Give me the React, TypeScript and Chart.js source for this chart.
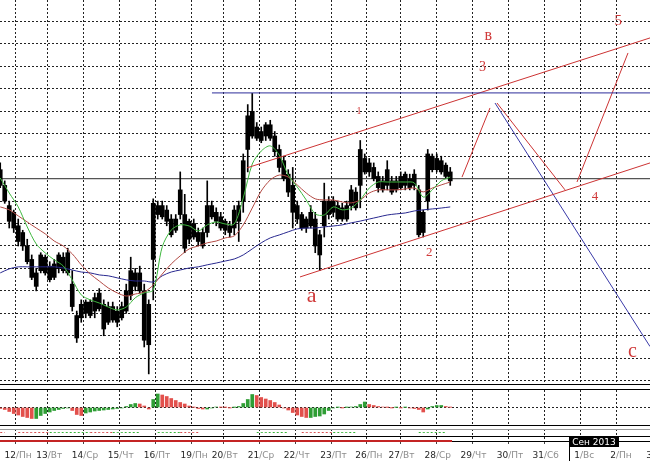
import React, { useEffect, useRef } from 'react';
import { Chart, registerables } from 'chart.js';

Chart.register(...registerables);

// ---------- time axis (trading-day units, grid at each day start) ----------
const dayStarts = [0, 0.881, 1.869, 2.869, 3.869, 4.889, 5.758, 6.758, 7.758, 8.769, 9.742, 10.667, 11.667, 12.667, 13.675, 14.667, 15.667, 16.667, 17.667];
const dayNumbers = ['12', '13', '14', '15', '16', '19', '20', '21', '22', '23', '26', '27', '28', '29', '30', '31', '1', '2', '3'];
const dayNames = ['/Пн', '/Вт', '/Ср', '/Чт', '/Пт', '/Пн', '/Вт', '/Ср', '/Чт', '/Пт', '/Пн', '/Вт', '/Ср', '/Чт', '/Пт', '/Сб', '/Вс', '/Пн', '/Вт'];
const timeMin = -0.444;
const timeMax = 17.611;
const firstBarTime = -0.4375;
const barStep = 0.125; // one bar = 3 hours
const monthMark = { at: 15.361, text: 'Сен 2013' };

// ---------- price axis ----------
const priceMin = 1.32985;
const priceMax = 1.34696;
const priceGrid = [1.33, 1.331, 1.332, 1.333, 1.334, 1.335, 1.336, 1.337, 1.338, 1.339, 1.34, 1.341, 1.342, 1.343, 1.344, 1.345, 1.346];
const bidPrice = 1.339;

// ---------- candles ----------
const opens = [
  1.3394, 1.3387, 1.3378, 1.3375, 1.3369, 1.3366, 1.3360, 1.3354, 1.3348, 1.3349,
  1.3355, 1.3351, 1.3346, 1.3350, 1.3355, 1.3357, 1.3343, 1.3329, 1.3328, 1.3330,
  1.3335, 1.3331, 1.3332, 1.3334, 1.3326, 1.3333, 1.3331, 1.3328, 1.3331, 1.3338,
  1.3348, 1.3348, 1.3340, 1.3334, 1.3354, 1.3374, 1.3378, 1.3376, 1.3372, 1.3367,
  1.3374, 1.3374, 1.3363, 1.3364, 1.3366, 1.3366, 1.3366, 1.3378, 1.3375, 1.3373,
  1.3371, 1.3369, 1.3368, 1.3371, 1.3380, 1.3403, 1.3409, 1.3413, 1.3411, 1.3409,
  1.3414, 1.3409, 1.3403, 1.3398, 1.3392, 1.3387, 1.3378, 1.3374, 1.3368, 1.3369,
  1.3372, 1.3365, 1.3369, 1.3380, 1.3375, 1.3378, 1.3377, 1.3372, 1.3378, 1.3384,
  1.3387, 1.3399, 1.3397, 1.3395, 1.3391, 1.3389, 1.3387, 1.3389, 1.3385, 1.3386,
  1.3392, 1.3386, 1.3392, 1.3385, 1.3366, 1.3380, 1.3400, 1.3399, 1.3398, 1.3396,
  1.3393,
];
const highs = [
  1.3397, 1.3389, 1.3380, 1.3376, 1.3372, 1.3367, 1.3363, 1.3356, 1.3350, 1.3357,
  1.3356, 1.3353, 1.3354, 1.3357, 1.3357, 1.3359, 1.3349, 1.3331, 1.3336, 1.3336,
  1.3336, 1.3339, 1.3341, 1.3336, 1.3335, 1.3335, 1.3333, 1.3335, 1.3343, 1.3355,
  1.3350, 1.3351, 1.3343, 1.3336, 1.3381, 1.3380, 1.3380, 1.3378, 1.3374, 1.3374,
  1.3393, 1.3383, 1.3372, 1.3372, 1.3368, 1.3368, 1.3389, 1.3380, 1.3377, 1.3375,
  1.3372, 1.3371, 1.3378, 1.3380, 1.3401, 1.3423, 1.3428, 1.3415, 1.3413, 1.3415,
  1.3416, 1.3411, 1.3405, 1.3400, 1.3394, 1.3395, 1.3380, 1.3375, 1.3373, 1.3378,
  1.3375, 1.3367, 1.3388, 1.3382, 1.3382, 1.3380, 1.3379, 1.3380, 1.3387, 1.3386,
  1.3407, 1.3401, 1.3399, 1.3397, 1.3393, 1.3391, 1.3398, 1.3391, 1.3391, 1.3393,
  1.3393, 1.3392, 1.3394, 1.3387, 1.3376, 1.3403, 1.3401, 1.3401, 1.3400, 1.3397,
  1.3395,
];
const lows = [
  1.3386, 1.3379, 1.3368, 1.3366, 1.3360, 1.3358, 1.3352, 1.3345, 1.3340, 1.3348,
  1.3347, 1.3344, 1.3345, 1.3348, 1.3348, 1.3347, 1.3331, 1.3317, 1.3326, 1.3328,
  1.3328, 1.3328, 1.3331, 1.3320, 1.3325, 1.3326, 1.3324, 1.3327, 1.3330, 1.3336,
  1.3340, 1.3339, 1.3315, 1.3303, 1.3336, 1.3372, 1.3372, 1.3369, 1.3364, 1.3366,
  1.3372, 1.3357, 1.3361, 1.3363, 1.3360, 1.3359, 1.3364, 1.3372, 1.3369, 1.3367,
  1.3365, 1.3364, 1.3365, 1.3362, 1.3375, 1.3393, 1.3408, 1.3407, 1.3406, 1.3407,
  1.3407, 1.3400, 1.3393, 1.3389, 1.3382, 1.3368, 1.3370, 1.3367, 1.3366, 1.3368,
  1.3357, 1.3349, 1.3364, 1.3372, 1.3373, 1.3371, 1.3371, 1.3371, 1.3376, 1.3376,
  1.3377, 1.3392, 1.3391, 1.3389, 1.3384, 1.3384, 1.3385, 1.3383, 1.3384, 1.3385,
  1.3385, 1.3385, 1.3385, 1.3364, 1.3364, 1.3376, 1.3393, 1.3393, 1.3392, 1.3390,
  1.3387,
];
const closes = [
  1.3387, 1.3380, 1.3371, 1.3368, 1.3362, 1.3360, 1.3353, 1.3346, 1.3342, 1.3356,
  1.3348, 1.3345, 1.3352, 1.3356, 1.3349, 1.3348, 1.3333, 1.3319, 1.3334, 1.3335,
  1.3329, 1.3337, 1.3339, 1.3323, 1.3333, 1.3327, 1.3326, 1.3333, 1.3340, 1.3349,
  1.3342, 1.3340, 1.3318, 1.3316, 1.3379, 1.3378, 1.3373, 1.3371, 1.3365, 1.3372,
  1.3385, 1.3359, 1.3371, 1.3370, 1.3362, 1.3360, 1.3378, 1.3373, 1.3371, 1.3368,
  1.3367, 1.3366, 1.3376, 1.3378, 1.3398, 1.3418, 1.3420, 1.3408, 1.3407, 1.3414,
  1.3408, 1.3402, 1.3395, 1.3390, 1.3384, 1.3375, 1.3372, 1.3368, 1.3372, 1.3375,
  1.3360, 1.3356, 1.3380, 1.3374, 1.3380, 1.3372, 1.3372, 1.3378, 1.3385, 1.3377,
  1.3403, 1.3393, 1.3393, 1.3390, 1.3386, 1.3385, 1.3394, 1.3384, 1.3389, 1.3391,
  1.3387, 1.3390, 1.3387, 1.3365, 1.3375, 1.3401, 1.3394, 1.3394, 1.3393, 1.3391,
  1.3389,
];

// ---------- moving averages (one value every 2 bars) ----------
const maStep = 2;
const maFast = [
  1.33903, 1.33836, 1.33774, 1.33685, 1.33609, 1.33569, 1.33538, 1.33511, 1.33449, 1.33382,
  1.33360, 1.33346, 1.33328, 1.33315, 1.33328, 1.33369, 1.33391, 1.33404, 1.33596, 1.33671,
  1.33694, 1.33689, 1.33667, 1.33694, 1.33707, 1.33698, 1.33698, 1.33814, 1.33965, 1.34023,
  1.34046, 1.34005, 1.33916, 1.33863, 1.33805, 1.33743, 1.33738, 1.33774, 1.33761, 1.33769,
  1.33805, 1.33858, 1.33885, 1.33885, 1.33885, 1.33885, 1.33881, 1.33818, 1.33850, 1.33890,
  1.33907,
];
const maMid = [
  1.33774, 1.33761, 1.33734, 1.33707, 1.33680, 1.33654, 1.33622, 1.33600, 1.33565, 1.33516,
  1.33475, 1.33444, 1.33413, 1.33391, 1.33377, 1.33386, 1.33395, 1.33426, 1.33475, 1.33520,
  1.33556, 1.33587, 1.33600, 1.33614, 1.33622, 1.33636, 1.33645, 1.33694, 1.33769, 1.33845,
  1.33894, 1.33916, 1.33907, 1.33872, 1.33836, 1.33810, 1.33805, 1.33805, 1.33796, 1.33792,
  1.33805, 1.33836, 1.33850, 1.33850, 1.33850, 1.33854, 1.33858, 1.33841, 1.33858, 1.33872,
  1.33885,
];
const maSlow = [
  1.33480, 1.33498, 1.33507, 1.33507, 1.33507, 1.33507, 1.33507, 1.33502, 1.33493, 1.33484,
  1.33480, 1.33471, 1.33467, 1.33458, 1.33449, 1.33444, 1.33444, 1.33440, 1.33467, 1.33484,
  1.33493, 1.33502, 1.33507, 1.33516, 1.33524, 1.33533, 1.33542, 1.33560, 1.33587, 1.33614,
  1.33636, 1.33649, 1.33663, 1.33676, 1.33680, 1.33680, 1.33685, 1.33689, 1.33694, 1.33703,
  1.33711, 1.33720, 1.33729, 1.33738, 1.33743, 1.33747, 1.33756, 1.33761, 1.33765, 1.33769,
  1.33774,
];

// ---------- drawn objects (time, price) ----------
const resistance = [[5.444, 1.34282], [17.611, 1.34282]];
const channelUpper = [[6.417, 1.33948], [17.611, 1.34527]];
const channelLower = [[7.889, 1.33462], [17.611, 1.3397]];
const forecastUp1 = [[12.389, 1.33907], [13.167, 1.34215]];
const forecastDown = [[13.361, 1.34237], [15.25, 1.3385]];
const forecastUp2 = [[15.583, 1.33885], [17.0, 1.3446]];
const targetLine = [[13.306, 1.34237], [17.611, 1.33152]];

const waveLabels = [
  { text: 'в', x: 13.12, y: 1.34518, size: 16 },
  { text: '5', x: 16.73, y: 1.34584, size: 15 },
  { text: '3', x: 12.96, y: 1.3438, size: 14 },
  { text: '1', x: 9.53, y: 1.34188, size: 10 },
  { text: '2', x: 11.48, y: 1.33556, size: 13 },
  { text: '4', x: 16.08, y: 1.33805, size: 13 },
  { text: 'a', x: 8.21, y: 1.33351, size: 22 },
  { text: 'c', x: 17.12, y: 1.33106, size: 20 },
];

// ---------- oscillator (one value per bar) ----------
const oscillator = [
  -0.0001, -0.0002, -0.0004, -0.0006, -0.00075, -0.0009, -0.001, -0.0011, -0.0011, -0.0008,
  -0.0006, -0.00045, -0.0003, -0.0002, -0.0001, -0.00005, -0.0003, -0.0007, -0.0008, -0.00055,
  -0.00045, -0.00035, -0.0003, -0.00025, -0.0002, -0.00015, -0.0001, -0.00005, 0.0001, 0.0003,
  0.0004, 0.00035, 0.00015, -0.00015, 0.0008, 0.00135, 0.00125, 0.0011, 0.0009, 0.0007,
  0.0005, 0.00035, 0.00015, 0.00002, -0.0001, -0.00015, -0.00015, -0.00005, 0.00005, 0.00002,
  0.00001, -0.00001, 0.00001, 0.0001, 0.0004, 0.0008, 0.0013, 0.0012, 0.001, 0.00085,
  0.0007, 0.0005, 0.00025, -0.00005, -0.00025, -0.0005, -0.00075, -0.0009, -0.001, -0.001,
  -0.0009, -0.00085, -0.00065, -0.0003, -0.00005, 0.00001, -0.00001, 0.00001, 0.00005, 0.0001,
  0.0003, 0.00055, 0.0003, 0.0002, 0.0001, 0.00005, 0.00001, -0.00001, 0.00001, -0.00001,
  0.00001, -0.00005, -0.0001, -0.0002, -0.00045, -0.00015, 0.0001, 0.0002, 0.0002, 0.0001,
  0.00002,
];

// ---------- signal state per bar (1 buy, -1 sell, 0 none) ----------
const signalState = [
  -1, -1, 0, 0, -1, -1, -1, -1, -1, -1,
  -1, 1, 1, 1, 1, 1, 1, 1, 1, 1,
  -1, -1, -1, -1, -1, 1, 1, 1, 1, 1,
  1, 1, 0, 0, 0, 1, 1, 1, 1, 1,
  -1, -1, -1, -1, -1, 0, 0, 0, 0, 0,
  0, 0, 0, 0, 0, 0, 0, 1, 1, 1,
  1, 1, 1, 1, 1, 0, 0, -1, -1, -1,
  -1, -1, -1, -1, 1, 1, 1, 1, 1, 1,
  0, 0, 0, 0, 0, 0, 0, 0, 0, 0,
  0, 0, 0, 1, 1, 1, 1, 1, 1, 1,
  0,
];

// ---------- styling ----------
const GRID = '#222';
const DASH = [2, 2];
const RED_LINE = '#cc3333';
const BLUE_LINE = '#2d2d9a';
const LABEL_FONT = '"DejaVu Sans", sans-serif';

const barTimes = opens.map((_, i) => firstBarTime + i * barStep);
const maTimes = maFast.map((_, k) => barTimes[k * maStep]);

const seg = (pts: number[][]) => pts.map(([x, y]) => ({ x, y }));

function timeScale(extra: any = {}) {
  return {
    type: 'linear',
    min: timeMin,
    max: timeMax,
    offset: false,
    afterBuildTicks: (s: any) => {
      s.ticks = dayStarts.map((v) => ({ value: v }));
    },
    ticks: { display: false },
    grid: { display: true, color: GRID, lineWidth: 1, drawTicks: false, offset: false },
    border: { display: false, dash: DASH },
    afterFit: (s: any) => {
      s.height = 0;
      s.paddingLeft = 0;
      s.paddingRight = 0;
    },
    ...extra,
  };
}

const baseOptions = {
  responsive: false,
  maintainAspectRatio: false,
  animation: false,
  devicePixelRatio: 1,
  events: [],
  layout: { padding: 0 },
  plugins: { legend: { display: false }, tooltip: { enabled: false } },
};

const waveLabelPlugin = {
  id: 'waveLabels',
  afterDatasetsDraw(chart: any) {
    const { ctx, scales } = chart;
    ctx.save();
    ctx.fillStyle = '#d03a3a';
    ctx.textAlign = 'center';
    ctx.textBaseline = 'alphabetic';
    waveLabels.forEach((l) => {
      ctx.font = `${l.size}px "Liberation Serif", "DejaVu Serif", serif`;
      ctx.fillText(l.text, scales.x.getPixelForValue(l.x), scales.y.getPixelForValue(l.y));
    });
    ctx.restore();
  },
};

// both label rows (day number + weekday) share the same strip under the panel
const axisStripPlugin = {
  id: 'axisStrip',
  afterLayout(chart: any) {
    const a = chart.scales.x;
    const b = chart.scales.x2;
    if (a && b) {
      b.top = a.top;
      b.bottom = a.bottom;
    }
  },
};

const monthPlugin = {
  id: 'monthMark',
  afterDraw(chart: any) {
    const { ctx, chartArea, scales } = chart;
    const px = Math.round(scales.x.getPixelForValue(monthMark.at));
    ctx.save();
    ctx.font = `9px ${LABEL_FONT}`;
    const w = Math.ceil(ctx.measureText(monthMark.text).width) + 6;
    const top = chartArea.bottom - 4;
    ctx.fillStyle = '#000';
    ctx.fillRect(px, top, w, 10);
    ctx.fillRect(px, top + 10, 1, chart.height - top - 10);
    ctx.fillStyle = '#fff';
    ctx.textAlign = 'center';
    ctx.textBaseline = 'middle';
    ctx.fillText(monthMark.text, px + w / 2, top + 5.5);
    ctx.restore();
  },
};

function lineDs(data: any[], color: string, order: number, width = 1, extra: any = {}) {
  return {
    type: 'line',
    data,
    borderColor: color,
    borderWidth: width,
    pointRadius: 0,
    tension: 0,
    fill: false,
    order,
    ...extra,
  };
}

function mainConfig(): any {
  return {
    type: 'line',
    data: {
      datasets: [
        lineDs(seg(resistance), BLUE_LINE, 1),
        lineDs(seg(channelUpper), RED_LINE, 1),
        lineDs(seg(channelLower), RED_LINE, 1),
        lineDs(seg(forecastUp1), RED_LINE, 1),
        lineDs(seg(forecastDown), RED_LINE, 1),
        lineDs(seg(forecastUp2), RED_LINE, 1),
        lineDs(seg(targetLine), '#3a3aa8', 1),
        lineDs(maTimes.map((x, k) => ({ x, y: maFast[k] })), '#3fb83f', 3, 1, { tension: 0.3 }),
        lineDs(maTimes.map((x, k) => ({ x, y: maMid[k] })), '#b34a44', 3, 1, { tension: 0.3 }),
        lineDs(maTimes.map((x, k) => ({ x, y: maSlow[k] })), '#28288f', 3, 1, { tension: 0.3 }),
        {
          type: 'bar',
          data: barTimes.map((x, i) => ({ x, y: [opens[i], closes[i]] })),
          backgroundColor: '#000',
          borderWidth: 0,
          barThickness: 4,
          grouped: false,
          order: 8,
        },
        {
          type: 'bar',
          data: barTimes.map((x, i) => ({ x, y: [lows[i], highs[i]] })),
          backgroundColor: '#000',
          borderWidth: 0,
          barThickness: 1,
          grouped: false,
          order: 9,
        },
        lineDs([{ x: timeMin, y: bidPrice }, { x: timeMax, y: bidPrice }], '#555', 10, 1.2),
      ],
    },
    options: {
      ...baseOptions,
      scales: {
        x: timeScale(),
        y: {
          type: 'linear',
          min: priceMin,
          max: priceMax,
          afterBuildTicks: (s: any) => {
            s.ticks = priceGrid.map((v) => ({ value: v }));
          },
          ticks: { display: false },
          grid: { color: GRID, lineWidth: 1, drawTicks: false },
          border: { display: false, dash: DASH },
          afterFit: (s: any) => {
            s.width = 0;
          },
        },
      },
    },
    plugins: [waveLabelPlugin],
  };
}

function oscConfig(): any {
  const colors = oscillator.map((v, i) => (i > 0 && v >= oscillator[i - 1] ? '#2f9e35' : '#e2504c'));
  return {
    type: 'bar',
    data: {
      datasets: [
        {
          type: 'bar',
          data: barTimes.map((x, i) => ({ x, y: oscillator[i] })),
          backgroundColor: colors,
          borderWidth: 0,
          barThickness: 3,
          grouped: false,
        },
      ],
    },
    options: {
      ...baseOptions,
      scales: {
        x: timeScale(),
        y: {
          type: 'linear',
          min: -0.00175,
          max: 0.00175,
          afterBuildTicks: (s: any) => {
            s.ticks = [{ value: 0 }];
          },
          ticks: { display: false },
          grid: { color: GRID, lineWidth: 1, drawTicks: false },
          border: { display: false, dash: DASH },
          afterFit: (s: any) => {
            s.width = 0;
          },
        },
      },
    },
  };
}

function axisConfig(): any {
  const labelAxis = (labels: string[], align: string, color: string, weight: number, height: number) => ({
    type: 'linear',
    position: 'bottom',
    min: timeMin,
    max: timeMax,
    offset: false,
    weight,
    afterBuildTicks: (s: any) => {
      s.ticks = dayStarts.map((v) => ({ value: v }));
    },
    ticks: {
      display: true,
      autoSkip: false,
      maxRotation: 0,
      minRotation: 0,
      align,
      padding: 6,
      color,
      font: { family: LABEL_FONT, size: 9 },
      callback: (_v: any, i: number) => labels[i],
    },
    afterFit: (s: any) => {
      s.height = height;
      s.paddingLeft = 0;
      s.paddingRight = 0;
    },
  });
  const xNum: any = labelAxis(dayNumbers, 'end', '#262626', 0, 20);
  xNum.grid = { display: true, color: GRID, lineWidth: 1, drawTicks: true, tickLength: 3, tickColor: '#444', offset: false };
  xNum.border = { display: false, dash: DASH };
  const xDay: any = labelAxis(dayNames, 'start', '#8c8c8c', 1, 0);
  xDay.grid = { display: false, drawTicks: true, tickLength: 3 };
  xDay.border = { display: false };

  return {
    type: 'line',
    data: {
      datasets: [
        {
          type: 'line',
          xAxisID: 'x',
          data: barTimes.map((x, i) => ({ x, y: signalState[i] !== 0 ? 8.5 : null })),
          borderWidth: 1,
          borderDash: [2, 2],
          pointRadius: 0,
          spanGaps: false,
          segment: {
            borderColor: (c: any) => (signalState[c.p0DataIndex] > 0 ? '#39b539' : '#d85050'),
          },
          borderColor: '#39b539',
        },
        {
          type: 'line',
          xAxisID: 'x',
          data: [{ x: timeMin, y: 0 }, { x: barTimes[barTimes.length - 1] + 0.05, y: 0 }],
          borderColor: '#c42424',
          borderWidth: 2,
          pointRadius: 0,
          clip: false,
        },
      ],
    },
    options: {
      ...baseOptions,
      layout: { padding: { top: 3, bottom: 0, left: 0, right: 0 } },
      scales: {
        x: xNum,
        x2: xDay,
        y: {
          type: 'linear',
          min: 0,
          max: 12,
          afterBuildTicks: (s: any) => {
            s.ticks = [{ value: 0 }, { value: 5 }, { value: 12 }];
          },
          ticks: { display: false },
          grid: {
            drawTicks: false,
            lineWidth: 1,
            color: (c: any) => (c.tick && c.tick.value === 12 ? '#9a9a9a' : '#000'),
          },
          border: { display: false },
          afterFit: (s: any) => {
            s.width = 0;
          },
        },
      },
    },
    plugins: [axisStripPlugin, monthPlugin],
  };
}

export default function App() {
  const mainRef = useRef<HTMLCanvasElement>(null);
  const oscRef = useRef<HTMLCanvasElement>(null);
  const axisRef = useRef<HTMLCanvasElement>(null);

  useEffect(() => {
    const charts = [
      new Chart(mainRef.current as HTMLCanvasElement, mainConfig()),
      new Chart(oscRef.current as HTMLCanvasElement, oscConfig()),
      new Chart(axisRef.current as HTMLCanvasElement, axisConfig()),
    ];
    return () => charts.forEach((c) => c.destroy());
  }, []);

  return (
    <div style={{ position: 'absolute', left: 0, top: 0, width: 650, height: 461, background: '#fff', overflow: 'hidden' }}>
      <div style={{ position: 'absolute', left: 0, top: 0, width: 650, height: 384, borderBottom: '1px solid #000' }}>
        <canvas ref={mainRef} width={650} height={384} style={{ display: 'block' }} />
      </div>
      <div style={{ position: 'absolute', left: 0, top: 389, width: 650, height: 35, borderTop: '1px solid #000', borderBottom: '1px solid #000' }}>
        <canvas ref={oscRef} width={650} height={35} style={{ display: 'block' }} />
      </div>
      <div style={{ position: 'absolute', left: 0, top: 426, width: 650, height: 35 }}>
        <canvas ref={axisRef} width={650} height={35} style={{ display: 'block' }} />
      </div>
    </div>
  );
}
